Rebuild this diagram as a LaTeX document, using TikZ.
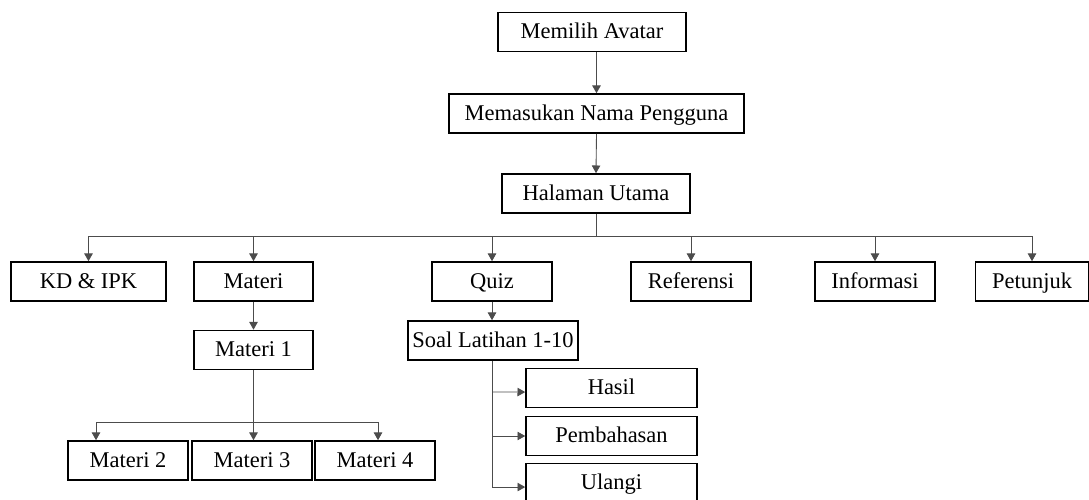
\documentclass[tikz,border=0pt]{standalone}
\usepackage{fontspec}
\setmainfont{Liberation Serif}
\usetikzlibrary{arrows.meta}
\begin{document}
\begin{tikzpicture}[x=0.02cm,y=-0.02cm,
  kotak/.style={draw, line width=0.9pt, inner sep=0pt, minimum height=0.78cm,
    text height=0.95em, text depth=0.2em,
    font=\fontsize{12.8}{14}\selectfont},
  garis/.style={line width=0.5pt, black!70},
  panah/.style={garis, -{Triangle[length=4.4pt,width=4.8pt]}}]
\useasboundingbox (0,0) rectangle (1089,500);
% alur awal
\node[kotak, minimum width=3.76cm] (avatar) at (592,32) {Memilih Avatar};
\node[kotak, minimum width=5.9cm] (nama) at (596.5,113.5) {Memasukan Nama Pengguna};
\node[kotak, minimum width=3.76cm] (utama) at (596,193.5) {Halaman Utama};
\draw[panah] (avatar.south -| nama) -- (nama.north);
\draw[panah] (nama.south) -- (utama.north);
% menu utama
\node[kotak, minimum width=3.1cm] (kd) at (88.5,281.5) {KD \& IPK};
\node[kotak, minimum width=2.38cm] (materi) at (253.5,281.5) {Materi};
\node[kotak, minimum width=2.4cm] (quiz) at (492,281.5) {Quiz};
\node[kotak, minimum width=2.4cm] (referensi) at (691,281.5) {Referensi};
\node[kotak, minimum width=2.4cm] (informasi) at (875,281.5) {Informasi};
\node[kotak, minimum width=2.26cm] (petunjuk) at (1032,281.5) {Petunjuk};
\coordinate (bus) at (596,236);
\draw[garis] (utama.south) -- (bus);
\draw[garis] (kd.north |- bus) -- (petunjuk.north |- bus);
\foreach \n in {kd,materi,quiz,referensi,informasi,petunjuk}
  \draw[panah] (\n.north |- bus) -- (\n.north);
% materi
\node[kotak, minimum width=2.38cm] (materi1) at (253.5,350) {Materi 1};
\node[kotak, minimum width=2.4cm] (materi2) at (128,460.5) {Materi 2};
\node[kotak, minimum width=2.4cm] (materi3) at (252,460.5) {Materi 3};
\node[kotak, minimum width=2.4cm] (materi4) at (375,460.5) {Materi 4};
\draw[panah] (materi.south) -- (materi1.north);
\coordinate (b2) at (96,422);
\coordinate (b4) at (378,422);
\draw[garis] (b2) -- (b4);
\draw[panah] (b2) -- (b2 |- materi2.north);
\draw[panah] (materi1.south) -- (materi1.south |- materi3.north);
\draw[panah] (b4) -- (b4 |- materi4.north);
% quiz
\node[kotak, minimum width=3.4cm] (soal) at (493,340.5) {Soal Latihan 1-10};
\node[kotak, minimum width=3.42cm] (hasil) at (611.5,388) {Hasil};
\node[kotak, minimum width=3.42cm] (bahas) at (611.5,436) {Pembahasan};
\node[kotak, minimum width=3.42cm] (ulangi) at (611.5,483) {Ulangi};
\draw[panah] (quiz.south) -- (quiz.south |- soal.north);
\draw[panah] (quiz.south |- soal.south) |- ([yshift=-2.3pt]ulangi.west);
\draw[panah] (quiz.south |- hasil.west) ++(0,4) -- ([yshift=-2.3pt]hasil.west);
\draw[panah] (quiz.south |- bahas.west) -- (bahas.west);
\end{tikzpicture}
\end{document}
